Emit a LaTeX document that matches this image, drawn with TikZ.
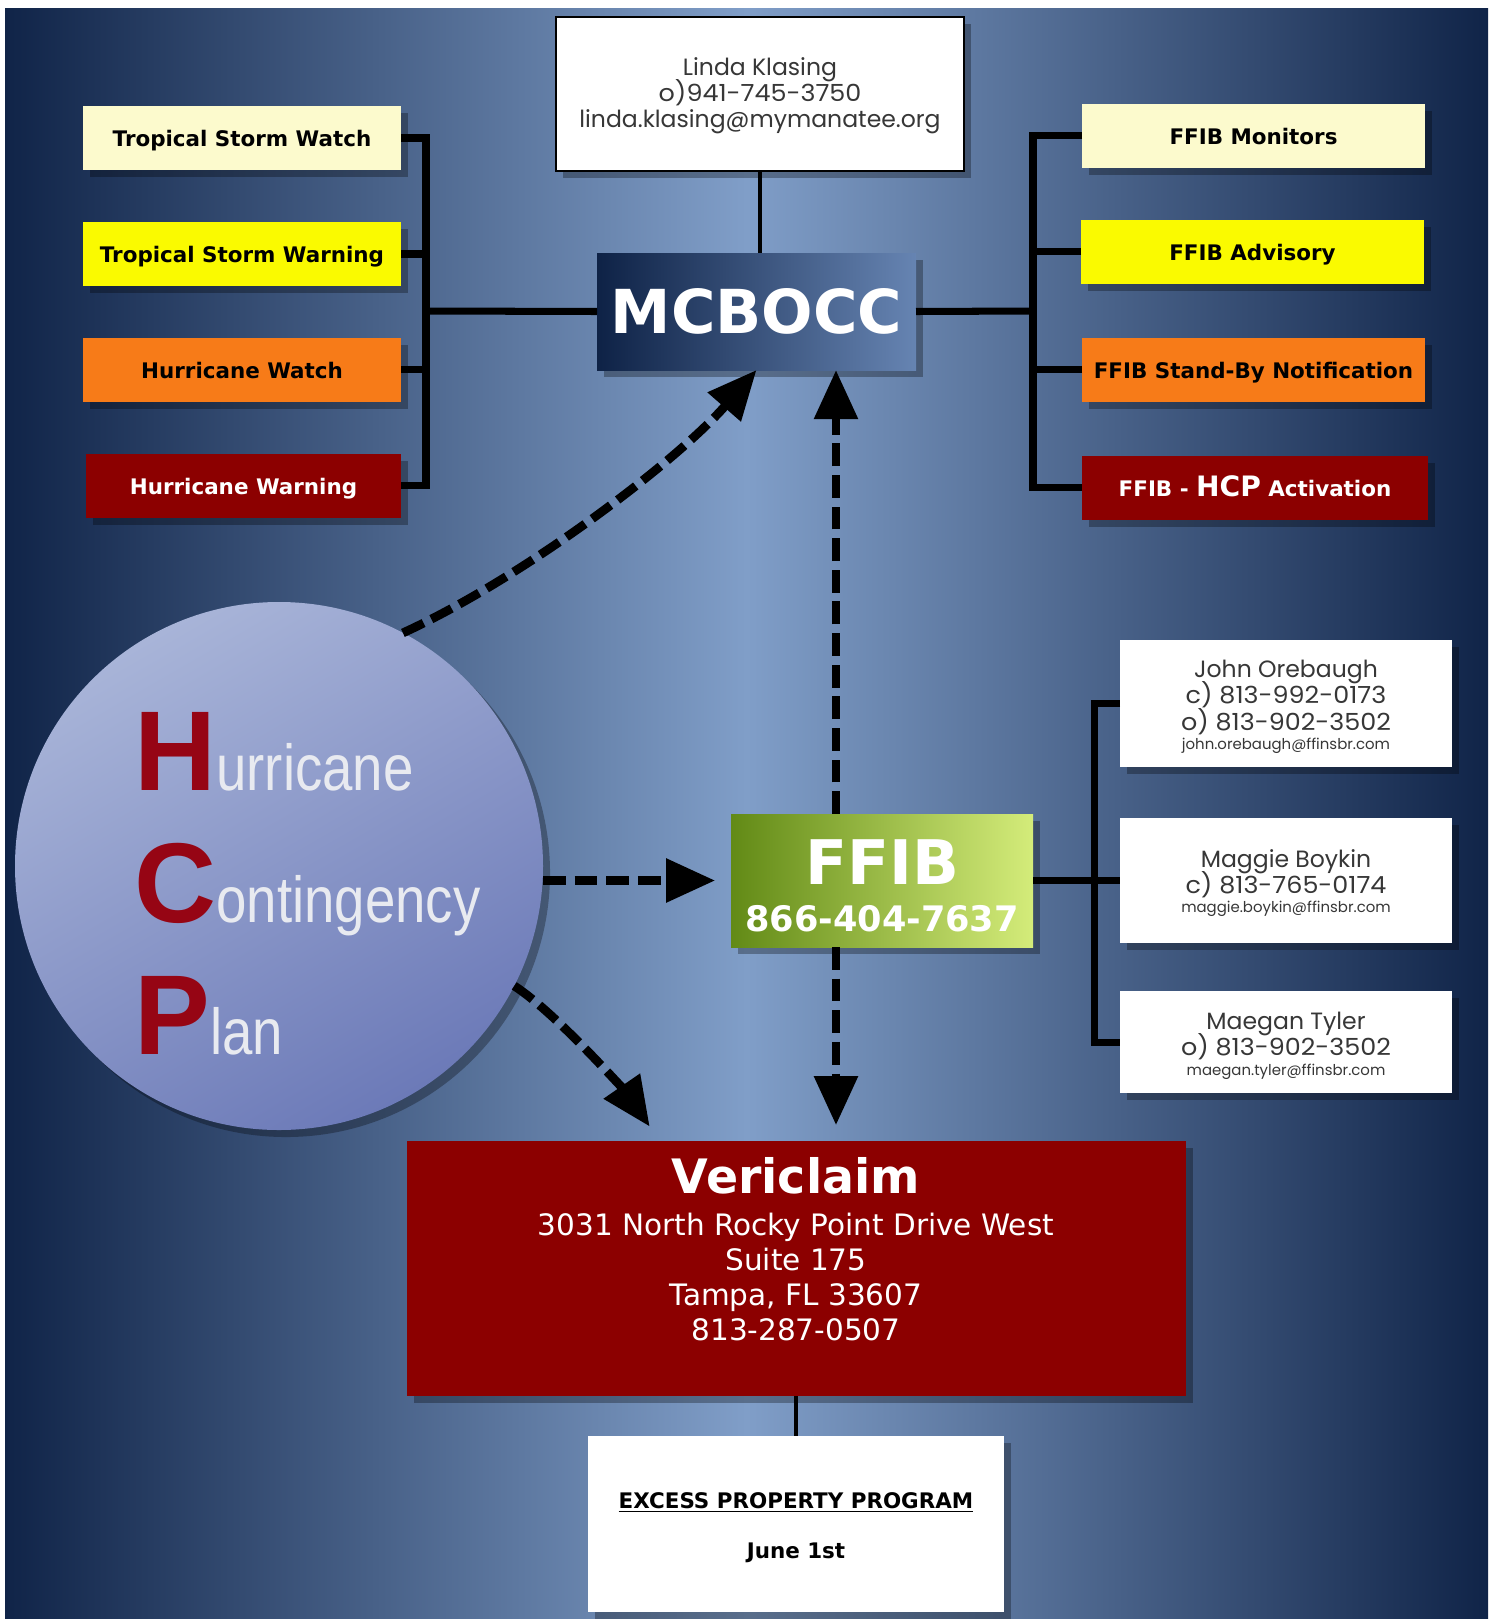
\documentclass[tikz,border=0pt]{standalone}
\usepackage{fontspec}
\usetikzlibrary{arrows.meta,shadows,calc}
\newfontfamily\verdfont{DejaVu Sans}
\newfontfamily\arialfont{Liberation Sans}
\newfontfamily\arialnarrow{Liberation Sans}[FakeStretch=0.84]
\newfontfamily\thinfont{Poppins}
\newfontfamily\thinwide{Poppins}[FakeStretch=1.08]
\newcommand{\pxu}{0.02cm}
\newcommand{\hcpcap}[1]{{\arialfont\bfseries\color{hcpred}\fontsize{64.6}{70}\selectfont #1}}
\newcommand{\hcprest}[1]{{\arialnarrow\color{hcptext}\fontsize{37}{40}\selectfont #1}}
\newcommand{\phoneline}[1]{{\thinwide #1}}
\newcommand{\mailline}[1]{{\fontsize{8.5}{9.5}\selectfont #1}}
\newcommand{\contactfont}{\thinfont\fontsize{13.4}{14.9}\selectfont\lineskiplimit-20pt\relax}

\definecolor{bgdark}{RGB}{16,36,72}
\definecolor{bglight}{RGB}{128,158,200}
\definecolor{cream}{RGB}{252,250,205}
\definecolor{alertyellow}{RGB}{250,250,0}
\definecolor{alertorange}{RGB}{247,123,24}
\definecolor{alertred}{RGB}{140,0,0}
\definecolor{hcpred}{RGB}{150,5,20}
\definecolor{hcptext}{RGB}{232,234,240}
\definecolor{circletop}{RGB}{168,180,216}
\definecolor{circlebot}{RGB}{108,122,184}
\definecolor{navyleft}{RGB}{14,34,70}
\definecolor{navyright}{RGB}{102,132,178}
\definecolor{greenleft}{RGB}{98,138,22}
\definecolor{greenright}{RGB}{212,236,122}
\definecolor{inkgray}{RGB}{55,55,55}

\tikzset{
  box/.style={rectangle, inner sep=0pt, outer sep=0pt, align=center,
    drop shadow={shadow xshift=4pt, shadow yshift=-4pt, opacity=0.3, fill=black}},
  alertbox/.style={box, text height=9.8pt, text depth=0pt, font=\verdfont\bfseries\fontsize{12.2}{14}\selectfont},
  leftbox/.style={alertbox, minimum width=318*\pxu, minimum height=64*\pxu},
  rightbox/.style={alertbox, minimum width=343*\pxu, minimum height=64*\pxu},
  contact/.style={box, fill=white, minimum width=332*\pxu},
  contacttext/.style={align=center, text=inkgray, font=\contactfont},
  link/.style={line width=4pt},
  thinlink/.style={line width=2.8pt},
  dasharrow/.style={line width=5pt, dash pattern=on 13pt off 5pt,
    -{Triangle[length=28pt,width=24pt]}}
}

\begin{document}
\begin{tikzpicture}[x=0.02cm, y=-0.02cm]
			%%%%% START %%%%%
			\useasboundingbox (0,0) rectangle (1494,1619);
			\fill[white] (0,0) rectangle (1494,1619);
			\shade[left color=bgdark, right color=bgdark, middle color=bglight] (5,8) rectangle (1488,1619);
			
			\coordinate (lbar) at (426,311);
			\coordinate (rbar) at (1033,311);
			\coordinate (cbar) at (1094,880);
			\coordinate (vline) at (836,0);
			
			\node[box, draw=black, line width=1.2pt, fill=white, minimum width=408*\pxu, minimum height=154*\pxu] (linda) at (760,94) {};
			\node[contacttext] (lindatext) at ([yshift=-1pt]linda.center)
			  {Linda Klasing\\\phoneline{o)941-745-3750}\\linda.klasing@mymanatee.org};
			\node[box, left color=navyleft, right color=navyright, text=white, minimum width=319*\pxu, minimum height=117*\pxu,
			  font=\verdfont\bfseries\fontsize{34.5}{40}\selectfont] (mcbocc) at (756.5,311.5) {MCBOCC};
			
			\node[leftbox, fill=cream] (tswatch) at (242,138) {Tropical Storm Watch};
			\node[leftbox, fill=alertyellow] (tswarning) at (242,254) {Tropical Storm Warning};
			\node[leftbox, fill=alertorange] (hwatch) at (242,369.5) {Hurricane Watch};
			\node[leftbox, fill=alertred, text=white, minimum width=315*\pxu] (hwarning) at (243.5,485.5) {Hurricane Warning};
			
			\node[rightbox, fill=cream] (monitors) at (1253.5,135.5) {FFIB Monitors};
			\node[rightbox, fill=alertyellow] (advisory) at (1252.5,251.5) {FFIB Advisory};
			\node[rightbox, fill=alertorange] (standby) at (1253.5,369.5) {FFIB Stand-By Notification};
			\node[rightbox, fill=alertred, text=white, minimum width=346*\pxu] (activation) at (1255,487.5)
			  {FFIB - {\fontsize{16}{18}\selectfont HCP} Activation};
			
			\draw[thinlink] (linda.south) -- (linda.south |- mcbocc.north);
			\draw[link] (mcbocc.west) -- (lbar);
			\draw[link] (tswatch.east) -- (tswatch.east -| lbar) -- (hwarning.east -| lbar) -- (hwarning.east);
			\draw[link] (tswarning.east) -- (tswarning.east -| lbar);
			\draw[link] (hwatch.east) -- (hwatch.east -| lbar);
			\draw[link] (mcbocc.east) -- (rbar);
			\draw[link] (monitors.west) -- (monitors.west -| rbar) -- (activation.west -| rbar) -- (activation.west);
			\draw[link] (advisory.west) -- (advisory.west -| rbar);
			\draw[link] (standby.west) -- (standby.west -| rbar);
			
			% HCP circle
			\node[circle, minimum size=528*\pxu, inner sep=0pt, outer sep=0pt, top color=circletop, bottom color=circlebot,
			  shading angle=30, drop shadow={shadow xshift=4pt, shadow yshift=-4pt, opacity=0.3, fill=black}] (hcp) at (279,866) {};
			\node[anchor=base west, inner sep=0pt] (hline) at (134,790) {\hcpcap{H}\hcprest{urricane}};
			\node[anchor=base west, inner sep=0pt] (cline) at (134,922) {\hcpcap{C}\hcprest{ontingency}};
			\node[anchor=base west, inner sep=0pt] (pline) at (134,1054) {\hcpcap{P}\hcprest{lan}};
			
			\node[box, left color=greenleft, right color=greenright, minimum width=302*\pxu, minimum height=133*\pxu] (ffib) at (882,880.5) {};
			\node[text=white, align=center, font=\verdfont\bfseries\fontsize{20}{26.6}\selectfont] (ffibtext) at ([yshift=-3pt]ffib.center)
			  {{\fontsize{35}{26.6}\selectfont FFIB}\\866-404-7637};
			
			\node[contact, minimum height=127*\pxu] (john) at (1286,703.5) {};
			\node[contacttext] (johntext) at ([yshift=-2pt]john.center)
			  {John Orebaugh\\\phoneline{c) 813-992-0173}\\\phoneline{o) 813-902-3502}\\[-3.8pt]\mailline{john.orebaugh@ffinsbr.com}};
			\node[contact, minimum height=125*\pxu] (maggie) at (1286,880.5) {};
			\node[contacttext] (maggietext) at ([yshift=-1.5pt]maggie.center)
			  {Maggie Boykin\\\phoneline{c) 813-765-0174}\\[-3.8pt]\mailline{maggie.boykin@ffinsbr.com}};
			\node[contact, minimum height=102*\pxu] (maegan) at (1286,1042) {};
			\node[contacttext] (megantext) at ([yshift=-2pt]maegan.center)
			  {Maegan Tyler\\\phoneline{o) 813-902-3502}\\[-3.8pt]\mailline{maegan.tyler@ffinsbr.com}};
			\draw[link] (ffib.east) -- (maggie.west);
			\draw[link] (john.west) -- (john.west -| cbar) -- (maegan.west -| cbar) -- (maegan.west);
			
			\node[box, fill=alertred, minimum width=779*\pxu, minimum height=255*\pxu] (vericlaim) at (796,1268.5) {};
			\node[text=white, align=center, font=\verdfont\fontsize{16.8}{19.8}\selectfont] (vcltext) at ([yshift=11pt]vericlaim.center)
			  {{\bfseries\fontsize{27}{19.8}\selectfont Vericlaim}\\[4pt]3031 North Rocky Point Drive West\\Suite 175\\Tampa, FL 33607\\813-287-0507};
			\node[box, fill=white, minimum width=416*\pxu, minimum height=176*\pxu] (excess) at (796,1524) {};
			\node[align=center, font=\verdfont\bfseries\fontsize{12.2}{28.3}\selectfont] (excesstext) at ([yshift=-2pt]excess.center)
			  {\underline{EXCESS PROPERTY PROGRAM}\\June 1st};
			\draw[thinlink] (vericlaim.south) -- (excess.north);
			
			% dashed arrows
			\draw[dasharrow] (hcp.62) .. controls (525,577) and (677,461) .. (mcbocc.south);
			\draw[dasharrow, shorten >=9pt] (hcp.east |- ffib.west) -- (ffib.west);
			\draw[dasharrow, shorten >=10pt] (hcp.-27) .. controls (559,1015) and (630,1098) .. ($(vericlaim.north west)!0.325!(vericlaim.north east)$);
			\draw[dasharrow] (ffib.north -| vline) -- (mcbocc.south -| vline);
			\draw[dasharrow, shorten >=9pt] (ffib.south -| vline) -- (vericlaim.north -| vline);
			%%%%% END %%%%%
\end{tikzpicture}
\end{document}
